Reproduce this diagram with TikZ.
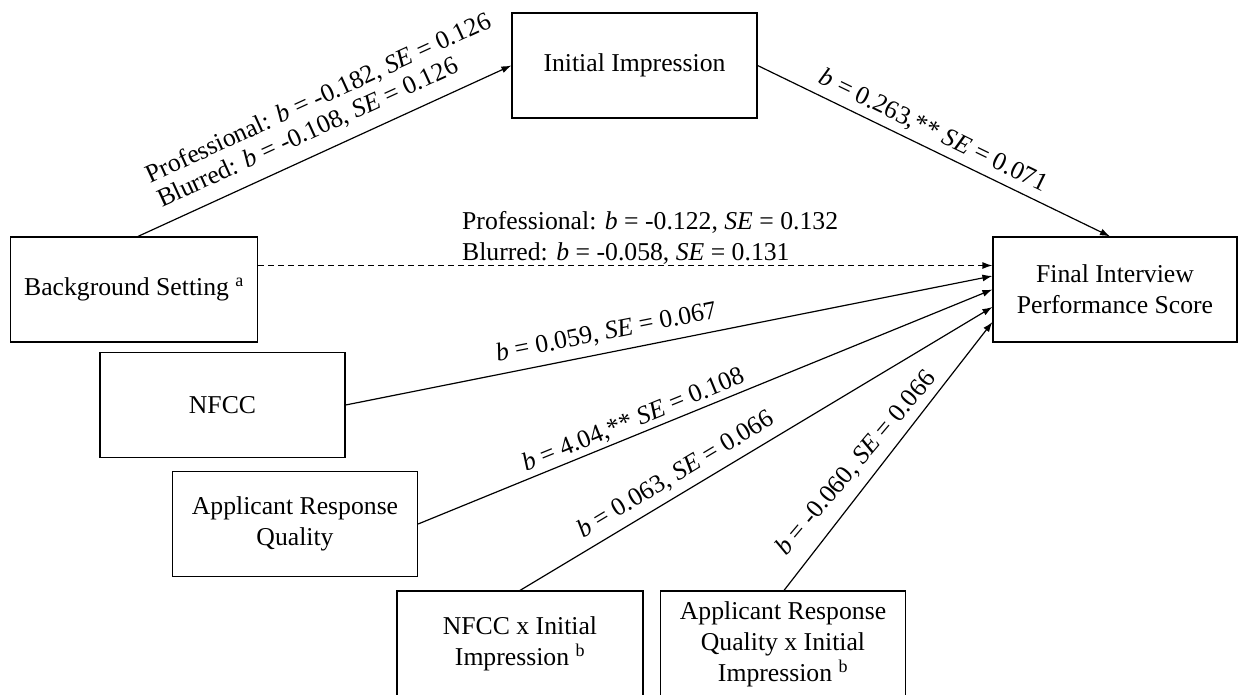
\documentclass[tikz,border=0pt]{standalone}
\usepackage{fontspec}
\setmainfont{Liberation Serif}
\usetikzlibrary{arrows.meta}
\begin{document}
\begin{tikzpicture}[x=1pt,y=-1pt,
  txt/.style={font=\fontsize{25.7}{31}\selectfont},
  box/.style={txt, draw, line width=1.2pt, rectangle, inner sep=0pt, align=center,
    minimum width=245pt, minimum height=105pt},
  conn/.style={line width=1.2pt, -{Latex[length=10pt,width=7pt]}},
  lbl/.style={txt, align=left, inner sep=0pt, sloped, anchor=base west}]
\useasboundingbox (0,0) rectangle (1238,694);
% boxes
\node[box] (II) at (634.5,65.5) {Initial Impression};
\node[box, minimum width=247pt] (BS) at (134,289.5) {Background Setting \textsuperscript{a}};
\node[box, minimum width=244pt] (FI) at (1115,289.5) {Final Interview\\Performance Score};
\node[box] (NF) at (222.5,405) {NFCC};
\node[box] (AR) at (295,524) {Applicant Response\\Quality};
\node[box, minimum width=246pt, minimum height=106pt] (NI) at (520,644) {NFCC x Initial\\Impression \textsuperscript{b}};
\node[box, minimum height=106pt] (AI) at (783,644) {Applicant Response\\Quality x Initial\\Impression \textsuperscript{b}};
% connectors
\draw[conn] ([xshift=4pt]BS.north) -- (II.west)
  node[lbl, pos=0.081, yshift=16pt, font=\fontsize{25.7}{27}\selectfont] (l1) {Professional: \textit{b} = -0.182, \textit{SE} = 0.126\\Blurred: \textit{b} = -0.108, \textit{SE} = 0.126};
\draw[conn] (II.east) -- ([xshift=-5pt]FI.north)
  node[lbl, pos=0.156, yshift=10.5pt] (l2) {\textit{b} = 0.263,** \textit{SE} = 0.071};
\draw[conn, dashed, dash pattern=on 6pt off 4pt] ([yshift=24pt]BS.east) -- ([yshift=24pt]FI.west);
\node[txt, align=left, anchor=base west, inner sep=3pt] (l3) at (459,260)
  {Professional: \textit{b} = -0.122, \textit{SE} = 0.132\\Blurred: \textit{b} = -0.058, \textit{SE} = 0.131};
\draw[conn] (NF.east) -- ([yshift=13.5pt]FI.west)
  node[lbl, pos=0.238, yshift=13pt] (l4) {\textit{b} = 0.059, \textit{SE} = 0.067};
\draw[conn] (AR.east) -- (FI.west)
  node[lbl, pos=0.192, yshift=7.5pt] (l5) {\textit{b} = 4.04,** \textit{SE} = 0.108};
\draw[conn] (NI.north) -- ([yshift=-17.5pt]FI.west)
  node[lbl, pos=0.146, yshift=12pt] (l6) {\textit{b} = 0.063, \textit{SE} = 0.066};
\draw[conn] ([xshift=1pt]AI.north) -- ([yshift=-32.5pt]FI.west)
  node[lbl, pos=0.08, yshift=19pt, rotate=-2.5] (l7) {\textit{b} = -0.060, \textit{SE} = 0.066};
\end{tikzpicture}
\end{document}
